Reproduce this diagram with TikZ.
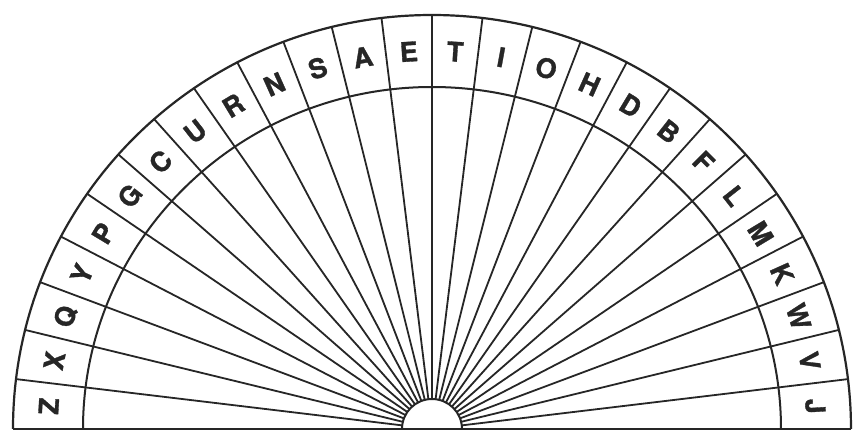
\documentclass[tikz,border=0pt]{standalone}
\usepackage{fontspec}
\setmainfont{TeX Gyre Heros}[BoldFeatures={FakeBold=1.2}]
\definecolor{ink}{HTML}{262626}
\begin{document}
\begin{tikzpicture}[x=1pt,y=1pt,
  line/.style={line width=1.8pt, draw=ink},
  letter/.style={font=\fontsize{27}{27}\selectfont\bfseries, text=ink, inner sep=0pt}]
\useasboundingbox (-432,-8) rectangle (423,429);
\fill[white] (-432,-8) rectangle (423,429);
% rays
\foreach \i in {1,...,25} {
  \pgfmathsetmacro\a{180-\i*180/26}
  \draw[line] (\a:30) -- (\a:419 and 414);
}
% arcs
\draw[line, line width=2.2pt] (-419,0) arc[start angle=180, end angle=0, x radius=419, y radius=414];
\draw[line, line width=2pt] (-349,0) arc[start angle=180, end angle=0, x radius=349, y radius=342];
\draw[line, line width=2pt] (-30,0) arc[start angle=180, end angle=0, radius=30];
\draw[line, line width=2.4pt] (-419,0) -- (419,0);
% letters
\foreach \l [count=\i from 0] in {Z,X,Q,Y,P,G,C,U,R,N,S,A,E,T,I,O,H,D,B,F,L,M,K,W,V,J} {
  \pgfmathsetmacro\a{180-(\i+0.5)*180/26}
  \node[letter, rotate=\a-90] (L\i) at (\a:384 and 378) {\l};
}
\end{tikzpicture}
\end{document}
